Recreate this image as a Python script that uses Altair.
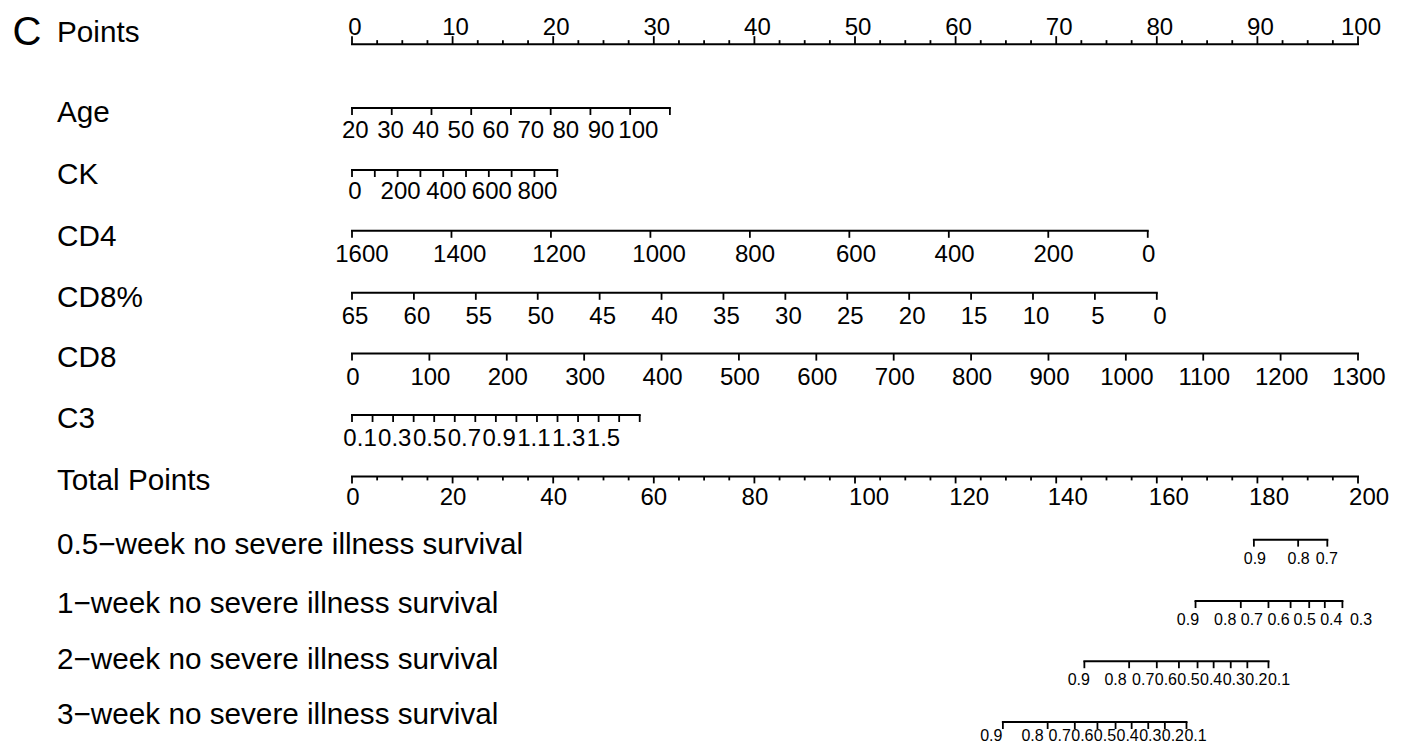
import altair as alt
import pandas as pd

# ------------------------------------------------------------------ data
# Points scale (0-100)
points_major = [0, 10, 20, 30, 40, 50, 60, 70, 80, 90, 100]
points_minor = [v / 2 for v in range(0, 201, 5) if v % 20 != 0]

# Age: ticks 20..100 span 0 -> 31.6 points; labels as drawn
age_ticks = [20, 30, 40, 50, 60, 70, 80, 90, 100]
age_end_points = 31.6
age_labels = ["20", "30", "40", "50", "60", "70", "80", "90", "100"]
age_label_points = [0.33, 3.83, 7.32, 10.83, 14.28, 17.77, 21.25, 24.75, 28.46]

# CK: ticks 0..900 span 0 -> 20.4 points
ck_ticks = [0, 100, 200, 300, 400, 500, 600, 700, 800, 900]
ck_end_points = 20.4
ck_labels = ["0", "200", "400", "600", "800"]

# CD4: 1600 -> 0 points, 0 -> 79.1 points
cd4_ticks = [1600, 1400, 1200, 1000, 800, 600, 400, 200, 0]
cd4_end_points = 79.1
cd4_labels = ["1600", "1400", "1200", "1000", "800", "600", "400", "200", "0"]
cd4_label_points = [0.99, 10.71, 20.58, 30.52, 40.06, 50.1, 59.9, 69.73, 79.2]

# CD8%: 65 -> 0 points, 0 -> 80.0 points
cd8p_ticks = [65, 60, 55, 50, 45, 40, 35, 30, 25, 20, 15, 10, 5, 0]
cd8p_end_points = 80.0

# CD8: 0 -> 0, 1300 -> 100 points
cd8_ticks = [0, 100, 200, 300, 400, 500, 600, 700, 800, 900, 1000, 1100, 1200, 1300]
cd8_end_points = 100.0

# C3: 15 ticks, 0.1 -> 0, 1.5 -> 28.6 points; labels as drawn
c3_ticks = [0.1, 0.2, 0.3, 0.4, 0.5, 0.6, 0.7, 0.8, 0.9, 1.0, 1.1, 1.2, 1.3, 1.4, 1.5]
c3_end_points = 28.6
c3_labels = ["0.1", "0.3", "0.5", "0.7", "0.9", "1.1", "1.3", "1.5"]
c3_label_points = [0.8, 4.25, 7.71, 11.17, 14.63, 18.08, 21.54, 25.0]

# Total points (0-200)
total_major = [0, 20, 40, 60, 80, 100, 120, 140, 160, 180, 200]
total_minor = [v for v in range(0, 201, 5) if v % 20 != 0]
total_label_pos = [0.2, 20.1, 40.1, 60.0, 80.1, 102.8, 122.7, 142.3, 162.4, 182.3, 202.2]

# Survival scales, in total points
surv_names = ["0.5\u2212week no severe illness survival",
              "1\u2212week no severe illness survival",
              "2\u2212week no severe illness survival",
              "3\u2212week no severe illness survival"]
surv_ticks = [
    [179.3, 188.1, 193.9],
    [167.7, 176.7, 182.2, 186.6, 190.3, 193.4, 196.9],
    [145.6, 154.5, 160.0, 164.4, 168.1, 171.3, 174.7, 178.0, 182.2],
    [129.4, 138.3, 143.7, 148.2, 151.8, 155.0, 158.3, 161.6, 165.9],
]
surv_labels = [
    ["0.9", "0.8", "0.7"],
    ["0.9", "0.8", "0.7", "0.6", "0.5", "0.4", "0.3"],
    ["0.9", "0.8", "0.7", "0.6", "0.5", "0.4", "0.3", "0.2", "0.1"],
    ["0.9", "0.8", "0.7", "0.6", "0.5", "0.4", "0.3", "0.2", "0.1"],
]
surv_label_pos = [
    [179.5, 188.2, 193.8],
    [166.2, 173.6, 178.9, 184.2, 189.4, 194.7, 200.6],
    [144.5, 151.8, 157.3, 161.8, 166.3, 170.8, 175.3, 179.8, 184.3],
    [127.1, 135.3, 140.7, 145.2, 149.7, 154.2, 158.7, 163.2, 167.7],
]

# ------------------------------------------------------------------ layout
ROW_H = 61.4          # px per row index
Y0 = 38.6             # px of row index 0
X_RANGE = [344, 1350]  # px of points 0 and 100
LABEL_SHIFT = 0.3     # small right shift of tick labels (points)
FONT = "Liberation Sans"


def lin(vals, v0, v1, p1, p0=0.0):
    return [p0 + (v - v0) * (p1 - p0) / (v1 - v0) for v in vals]


rows = []
rows.append(dict(name="Points", pos=-0.04, noff=-11,
                 ticks=[(p, -8) for p in points_major] + [(p, -4) for p in points_minor],
                 labels=[(str(v), v + LABEL_SHIFT) for v in points_major], loff=-16, fs=24))

age_p = lin(age_ticks, 20, 100, age_end_points)
rows.append(dict(name="Age", pos=1, noff=5, ticks=[(p, 7) for p in age_p],
                 labels=list(zip(age_labels, age_label_points)), loff=23, fs=24))

ck_p = lin(ck_ticks, 0, 900, ck_end_points)
rows.append(dict(name="CK", pos=2.01, noff=5, ticks=[(p, 7) for p in ck_p],
                 labels=[(t, p + LABEL_SHIFT) for t, p in zip(ck_labels, lin([int(t) for t in ck_labels], 0, 900, ck_end_points))],
                 loff=22, fs=24))

cd4_p = lin(cd4_ticks, 1600, 0, cd4_end_points)
rows.append(dict(name="CD4", pos=3.0, noff=6, ticks=[(p, 7) for p in cd4_p],
                 labels=list(zip(cd4_labels, cd4_label_points)), loff=24, fs=24))

cd8p_p = lin(cd8p_ticks, 65, 0, cd8p_end_points)
rows.append(dict(name="CD8%", pos=4.01, noff=5, ticks=[(p, 7) for p in cd8p_p],
                 labels=[(str(v), p + LABEL_SHIFT) for v, p in zip(cd8p_ticks, cd8p_p)], loff=24, fs=24))

cd8_p = lin(cd8_ticks, 0, 1300, cd8_end_points)
rows.append(dict(name="CD8", pos=5.0, noff=4, ticks=[(p, 7) for p in cd8_p],
                 labels=[(str(v), p + 0.1) for v, p in zip(cd8_ticks, cd8_p)], loff=24, fs=24))

c3_p = lin(c3_ticks, 0.1, 1.5, c3_end_points)
rows.append(dict(name="C3", pos=6.0, noff=4, ticks=[(p, 7) for p in c3_p],
                 labels=list(zip(c3_labels, c3_label_points)), loff=24, fs=24))

rows.append(dict(name="Total Points", pos=7.0, noff=5,
                 ticks=[(v / 2, 7) for v in total_major] + [(v / 2, 4) for v in total_minor],
                 labels=[(str(v), p / 2) for v, p in zip(total_major, total_label_pos)], loff=22, fs=24))

surv_pos = [8.03, 9.03, 10.01, 11.0]
surv_noff = [5, 3, -1, -7]
surv_loff = [19, 19, 19, 14]
for i in range(4):
    rows.append(dict(name=surv_names[i], pos=surv_pos[i], noff=surv_noff[i],
                     ticks=[(t / 2, 7) for t in surv_ticks[i]],
                     labels=[(t, p / 2) for t, p in zip(surv_labels[i], surv_label_pos[i])],
                     loff=surv_loff[i], fs=16))

line_recs, tick_recs, label_recs, name_recs = [], [], [], []
for r in rows:
    ps = [p for p, _ in r["ticks"]]
    line_recs.append(dict(x=min(ps), x2=max(ps), y=r["pos"]))
    for p, ln in r["ticks"]:
        tick_recs.append(dict(x=p, y=r["pos"], y2=r["pos"] + ln / ROW_H))
    for t, p in r["labels"]:
        label_recs.append(dict(x=p, y=r["pos"] + r["loff"] / ROW_H, text=t, fs=r["fs"]))
    name_recs.append(dict(y=r["pos"] + r["noff"] / ROW_H, text=r["name"]))

lines_df = pd.DataFrame(line_recs)
ticks_df = pd.DataFrame(tick_recs)
labels_df = pd.DataFrame(label_recs)
names_df = pd.DataFrame(name_recs)

xs = alt.Scale(domain=[0, 100], range=X_RANGE)
ys = alt.Scale(domain=[0, 11], range=[Y0, Y0 + 11 * ROW_H])

lines = alt.Chart(lines_df).mark_rule(color="black", strokeWidth=2, strokeCap="square").encode(
    x=alt.X("x:Q", scale=xs, axis=None), x2="x2:Q",
    y=alt.Y("y:Q", scale=ys, axis=None))

ticks = alt.Chart(ticks_df).mark_rule(color="black", strokeWidth=1.8).encode(
    x=alt.X("x:Q", scale=xs, axis=None),
    y=alt.Y("y:Q", scale=ys, axis=None), y2="y2:Q")

labels = alt.Chart(labels_df).mark_text(font=FONT, color="black", align="center",
                                        baseline="middle").encode(
    x=alt.X("x:Q", scale=xs, axis=None),
    y=alt.Y("y:Q", scale=ys, axis=None),
    text="text:N", size=alt.Size("fs:Q", scale=None))

names = alt.Chart(names_df).mark_text(font=FONT, color="black", align="left",
                                      baseline="middle", fontSize=29.7).encode(
    x=alt.value(49),
    y=alt.Y("y:Q", scale=ys, axis=None),
    text="text:N")

letter = alt.Chart(pd.DataFrame({"t": ["C"]})).mark_text(
    font=FONT, color="black", align="center", baseline="middle", fontSize=40).encode(
    x=alt.value(19), y=alt.value(25), text="t:N")

chart = alt.layer(lines, ticks, labels, names, letter).properties(
    width=1391, height=736, padding=0, autosize="none"
).configure_view(stroke=None)

chart.save("out.html", embed_options={"renderer": "svg", "actions": False})
